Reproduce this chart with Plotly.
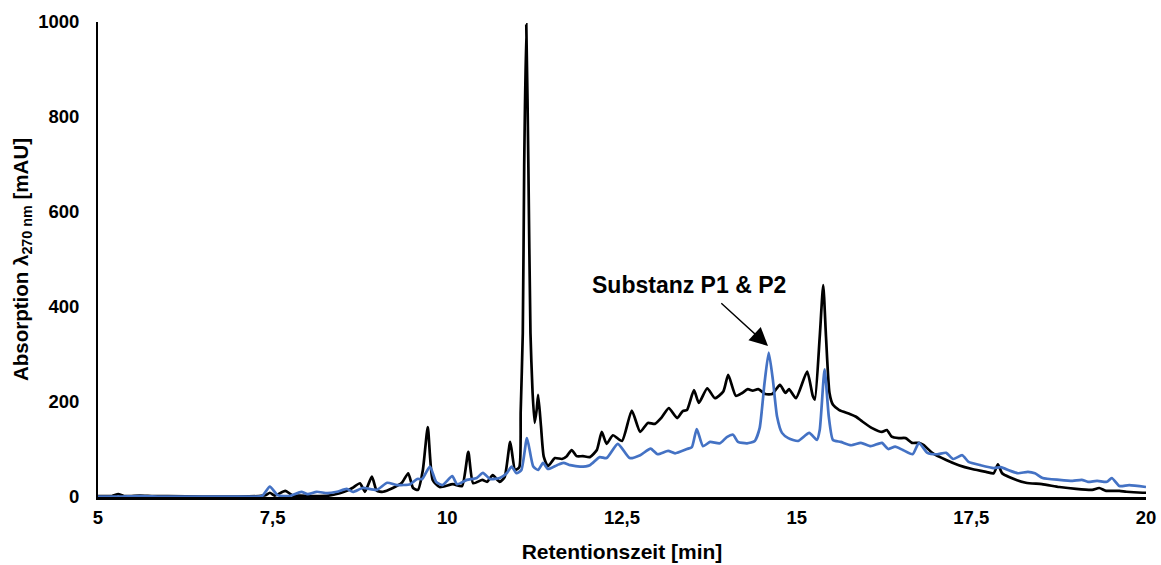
import plotly.graph_objects as go

# Retention time [min] and absorbance [mAU] of the two chromatograms
t_black = [5.00, 5.20, 5.29, 5.37, 5.60, 5.80, 6.00, 6.50, 7.00, 7.30, 7.40, 7.46, 7.53, 7.68, 7.79,
           7.90, 8.10, 8.30, 8.46, 8.56, 8.64, 8.75, 8.82, 8.92, 8.99, 9.08, 9.22, 9.35, 9.44, 9.51,
           9.58, 9.65, 9.72, 9.79, 9.89, 10.08, 10.21, 10.30, 10.37, 10.50, 10.57, 10.65, 10.75,
           10.82, 10.90, 10.97, 11.03, 11.05, 11.08, 11.10, 11.13, 11.16, 11.19, 11.22, 11.25,
           11.28, 11.30, 11.34, 11.38, 11.44, 11.54, 11.64, 11.71, 11.78, 11.85, 11.94, 12.04,
           12.14, 12.21, 12.28, 12.37, 12.50, 12.64, 12.76, 12.87, 12.97, 13.07, 13.17, 13.29,
           13.37, 13.43, 13.53, 13.60, 13.72, 13.83, 13.95, 14.02, 14.13, 14.22, 14.30, 14.37,
           14.45, 14.55, 14.65, 14.76, 14.84, 14.89, 14.99, 15.15, 15.23, 15.26, 15.33, 15.38,
           15.42, 15.47, 15.52, 15.61, 15.76, 15.85, 15.94, 16.08, 16.22, 16.29, 16.36, 16.46,
           16.56, 16.65, 16.75, 16.82, 16.94, 17.14, 17.32, 17.51, 17.71, 17.82, 17.88, 17.94,
           18.04, 18.28, 18.51, 18.76, 19.00, 19.23, 19.33, 19.43, 19.62, 19.72, 19.95, 20.00]
a_black = [2, 2, 6, 2, 3, 2, 2, 1, 1, 2, 4, 9, 3, 13, 3,
           3, 2, 3, 8, 13, 19, 29, 11, 43, 13, 11, 19, 30, 50, 19,
           15, 57, 147, 36, 21, 27, 23, 95, 29, 36, 32, 46, 32,
           42, 116, 57, 63, 180, 345, 695, 995, 695, 345, 220, 156,
           185, 215, 150, 85, 65, 82, 80, 86, 99, 86, 86, 84,
           99, 137, 112, 130, 118, 182, 137, 156, 154, 168, 187, 166,
           181, 183, 225, 198, 229, 208, 222, 257, 213, 219, 227, 224,
           227, 217, 217, 236, 219, 227, 208, 264, 213, 205, 337, 446,
           337, 219, 194, 183, 175, 169, 159, 145, 137, 141, 127, 124,
           124, 114, 114, 109, 93, 78, 67, 59, 53, 50, 69, 50,
           42, 30, 27, 21, 17, 15, 19, 13, 13, 11, 9, 9]

t_blue = [5.00, 5.30, 5.60, 5.90, 6.30, 6.80, 7.20, 7.35, 7.46, 7.57, 7.74, 7.91, 8.00, 8.13, 8.28,
          8.42, 8.56, 8.65, 8.79, 8.99, 9.14, 9.28, 9.47, 9.57, 9.64, 9.75, 9.84, 9.93, 10.07,
          10.14, 10.28, 10.42, 10.51, 10.61, 10.75, 10.85, 10.92, 10.99, 11.06, 11.14, 11.23,
          11.30, 11.37, 11.44, 11.57, 11.66, 11.76, 11.90, 12.04, 12.18, 12.28, 12.44, 12.61,
          12.76, 12.91, 13.01, 13.16, 13.26, 13.43, 13.50, 13.57, 13.66, 13.76, 13.90, 14.00,
          14.09, 14.16, 14.29, 14.40, 14.47, 14.54, 14.60, 14.66, 14.72, 14.79, 14.88, 15.02,
          15.18, 15.29, 15.33, 15.40, 15.46, 15.52, 15.63, 15.78, 15.92, 16.06, 16.22, 16.31,
          16.41, 16.52, 16.66, 16.75, 16.87, 17.01, 17.14, 17.24, 17.37, 17.46, 17.63, 17.82,
          17.92, 18.06, 18.17, 18.31, 18.41, 18.52, 18.76, 18.95, 19.08, 19.17, 19.30, 19.44,
          19.51, 19.62, 19.76, 20.00]
a_blue = [1, 1, 2, 1, 1, 1, 1, 2, 22, 4, 2, 11, 6, 11, 8,
          11, 17, 11, 19, 15, 30, 25, 27, 38, 38, 64, 32, 25, 44,
          27, 36, 40, 51, 38, 40, 50, 64, 50, 57, 124, 64,
          57, 72, 59, 67, 72, 67, 64, 67, 84, 82, 112, 82,
          88, 102, 90, 97, 92, 101, 105, 143, 107, 116, 113, 126,
          131, 116, 113, 118, 145, 240, 304, 246, 169, 135, 124, 118,
          135, 120, 141, 269, 169, 120, 116, 109, 114, 107, 114, 101,
          106, 99, 90, 114, 93, 90, 93, 80, 88, 74, 67, 61,
          63, 55, 50, 53, 50, 40, 36, 34, 36, 32, 34, 32,
          40, 23, 25, 21]

x_ticks = [5, 7.5, 10, 12.5, 15, 17.5, 20]
x_tick_text = ["5", "7,5", "10", "12,5", "15", "17,5", "20"]
y_ticks = [0, 200, 400, 600, 800, 1000]

FONT = "Liberation Sans, Arial, sans-serif"

fig = go.Figure()
fig.add_trace(go.Scatter(x=t_black, y=a_black, mode="lines",
                         line=dict(color="#000000", width=2.7, shape="spline", smoothing=0.55),
                         showlegend=False, hoverinfo="skip"))
fig.add_trace(go.Scatter(x=t_blue, y=a_blue, mode="lines",
                         line=dict(color="#4472C4", width=2.7, shape="spline", smoothing=0.55),
                         showlegend=False, hoverinfo="skip"))

# Label and arrow pointing at the P1/P2 peak
fig.add_annotation(x=13.46, y=446, xref="x", yref="y", text="<b>Substanz P1 &amp; P2</b>",
                   showarrow=False, font=dict(family=FONT, size=23, color="#000000"))
fig.add_annotation(x=14.59, y=318, ax=13.90, ay=411, xref="x", yref="y", axref="x", ayref="y",
                   text="", showarrow=True, arrowhead=2, arrowsize=2.6, arrowwidth=1.4,
                   arrowcolor="#000000")

fig.update_layout(
    width=1161, height=565, autosize=False,
    margin=dict(l=98, r=15, t=22, b=68),
    paper_bgcolor="white", plot_bgcolor="white",
    font=dict(family=FONT, size=18, color="#000000"),
    xaxis=dict(range=[5, 20], tickvals=x_ticks, ticktext=x_tick_text, automargin=False,
               showgrid=False, zeroline=False, showline=True, linecolor="#000000", linewidth=2.8,
               ticks="", ticklabelstandoff=2,
               tickfont=dict(family=FONT, size=18.5, weight="bold"),
               title=dict(text="<b>Retentionszeit [min]</b>", standoff=18,
                          font=dict(family=FONT, size=21))),
    yaxis=dict(range=[0, 1000], tickvals=y_ticks, automargin=False,
               showgrid=False, zeroline=False, showline=True, linecolor="#000000", linewidth=2,
               ticks="", ticklabelstandoff=13,
               tickfont=dict(family=FONT, size=18.5, weight="bold"),
               title=dict(text="<b>Absorption λ<sub>270 nm</sub> [mAU]</b>", standoff=4,
                          font=dict(family=FONT, size=20.5))),
)

fig.write_html("out.html")
